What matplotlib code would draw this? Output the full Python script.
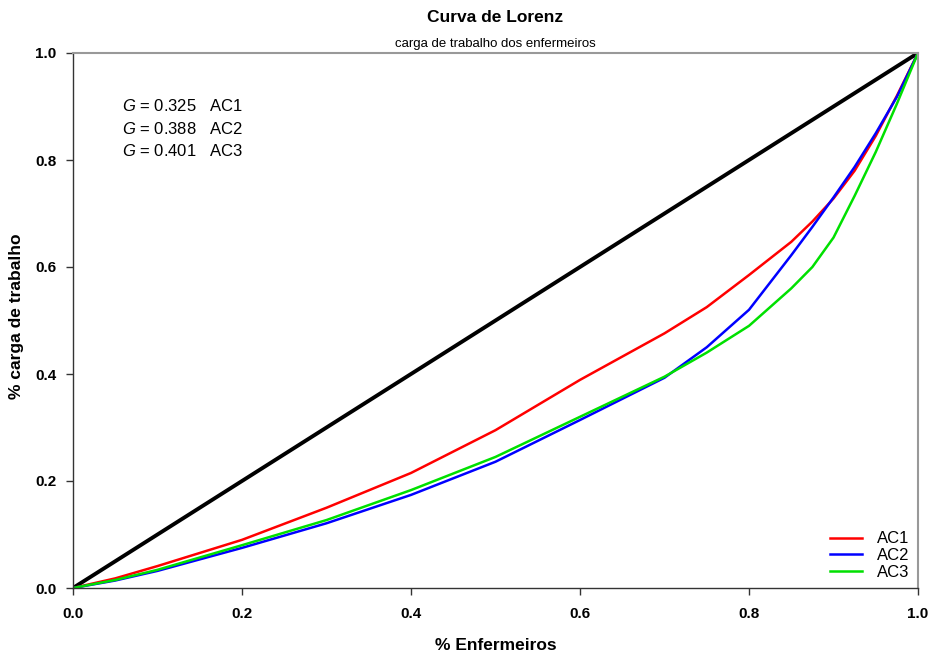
import matplotlib
matplotlib.use("Agg")
import matplotlib.pyplot as plt

plt.rcParams['font.family'] = ['Liberation Sans', 'DejaVu Sans']
plt.rcParams['mathtext.fontset'] = 'custom'
plt.rcParams['mathtext.it'] = 'Liberation Sans:italic'
plt.rcParams['mathtext.rm'] = 'Liberation Sans'

x_share = [0, 0.05, 0.1, 0.2, 0.3, 0.4, 0.5, 0.6, 0.7, 0.75, 0.8, 0.85, 0.875, 0.9, 0.925, 0.95, 0.975, 1.0]
ac1 = [0, 0.018, 0.041, 0.090, 0.150, 0.215, 0.295, 0.389, 0.476, 0.525, 0.585, 0.647, 0.685, 0.728, 0.780, 0.845, 0.920, 1.0]
ac2 = [0, 0.014, 0.032, 0.075, 0.121, 0.174, 0.236, 0.314, 0.393, 0.450, 0.520, 0.622, 0.675, 0.730, 0.787, 0.850, 0.918, 1.0]
ac3 = [0, 0.015, 0.034, 0.080, 0.127, 0.183, 0.245, 0.320, 0.395, 0.440, 0.490, 0.560, 0.600, 0.655, 0.733, 0.815, 0.905, 1.0]
series = [("AC1", ac1, "#ff0000"), ("AC2", ac2, "#0000ff"), ("AC3", ac3, "#00e000")]
gini = [("AC1", 0.325), ("AC2", 0.388), ("AC3", 0.401)]
ticks = [0.0, 0.2, 0.4, 0.6, 0.8, 1.0]

fig = plt.figure(figsize=(9.29, 6.54), dpi=100)
ax = fig.add_axes([73/929, 66/654, 845/929, 535/654])

ax.plot([0, 1], [0, 1], color="black", lw=2.8, solid_capstyle="butt")
for name, vals, col in series:
    ax.plot(x_share, vals, color=col, lw=1.8, label=name)

ax.set_xlim(0, 1)
ax.set_ylim(0, 1)
ax.set_xticks(ticks)
ax.set_yticks(ticks)
ax.set_xticklabels([f"{t:.1f}" for t in ticks], fontweight="bold", fontsize=11)
ax.set_yticklabels([f"{t:.1f}" for t in ticks], fontweight="bold", fontsize=11)
ax.tick_params(direction="out", length=5, width=1, color="#333333")
ax.tick_params(axis="x", pad=9)
ax.tick_params(axis="y", pad=7)

for s in ["bottom", "left"]:
    ax.spines[s].set_color("#333333")
    ax.spines[s].set_linewidth(1)
for s in ["top", "right"]:
    ax.spines[s].set_color("#999999")
    ax.spines[s].set_linewidth(1.5)

cx = 495.5 / 929
fig.text(cx, 1 - 646/654, "% Enfermeiros", ha="center", va="center", fontweight="bold", fontsize=12.5)
fig.text(17/929, 1 - 316/654, "% carga de trabalho", ha="center", va="center", rotation=90,
         fontweight="bold", fontsize=12.5)

fig.text(cx, 1 - 18/654, "Curva de Lorenz", ha="center", va="center", fontweight="bold", fontsize=12.5)
fig.text(cx, 1 - 44/654, "carga de trabalho dos enfermeiros", ha="center", va="center", fontsize=9.5)

for i, (name, g) in enumerate(gini):
    ax.text(0.058, 0.901 - i * 0.0425, rf"$G$ = {g:.3f}   {name}", fontsize=12, va="center", ha="left")

leg = ax.legend(loc="lower right", frameon=False, fontsize=12, handlelength=1.9,
                handletextpad=0.9, labelspacing=0.1, borderaxespad=0.1,
                bbox_to_anchor=(1.0, 0.0))

fig.savefig("out.png", dpi=100)
